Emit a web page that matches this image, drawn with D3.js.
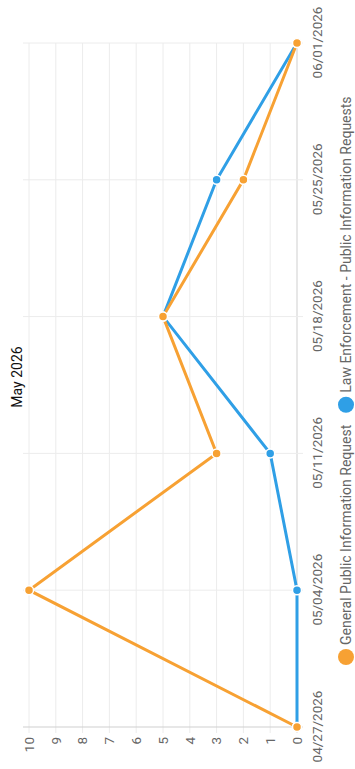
<!DOCTYPE html>
<html>
<head>
<meta charset="utf-8">
<script src="https://cdn.jsdelivr.net/npm/d3@7"></script>
<style>
  body { margin: 0; background: #fff; }
  svg { display: block; font-family: Roboto, "Liberation Sans", Arial, sans-serif; }
</style>
</head>
<body>
<div id="chart"></div>
<script>
// weekly counts, May 2026
const weeks = ["04/27/2026", "05/04/2026", "05/11/2026", "05/18/2026", "05/25/2026", "06/01/2026"];
const generalRequests = [0, 10, 3, 5, 2, 0];
const lawEnforcementRequests = [0, 0, 1, 5, 3, 0];
const valueTicks = [0, 1, 2, 3, 4, 5, 6, 7, 8, 9, 10];
const seriesNames = ["General Public Information Request", "Law Enforcement - Public Information Requests"];
const seriesColors = ["#f7a133", "#2f9fe6"];

const W = 355, H = 769;
const labelFont = "13.5px";

const svg = d3.select("#chart")
    .append("svg")
    .attr("width", W)
    .attr("height", H);

// chart is drawn in landscape and turned a quarter turn
const g = svg.append("g")
    .attr("transform", `translate(0,${H}) rotate(-90)`);

const x = d3.scalePoint()
    .domain(weeks)
    .range([42, 726]);

const y = d3.scaleLinear()
    .domain([0, 10])
    .range([297, 29]);

// grid
g.append("g")
    .selectAll("line")
    .data(valueTicks)
    .join("line")
    .attr("x1", 36)
    .attr("x2", 726)
    .attr("y1", d => y(d))
    .attr("y2", d => y(d))
    .attr("stroke", d => d === 0 ? "#cfcfcf" : "#ececec")
    .attr("stroke-width", 1);

g.append("g")
    .selectAll("line")
    .data(weeks)
    .join("line")
    .attr("x1", d => x(d))
    .attr("x2", d => x(d))
    .attr("y1", 23)
    .attr("y2", 303)
    .attr("stroke", (d, i) => i === 0 ? "#cfcfcf" : "#ececec")
    .attr("stroke-width", 1);

// axes
const xAxis = g.append("g")
    .attr("transform", "translate(0,303)")
    .call(d3.axisBottom(x).tickSize(0).tickPadding(9));

const yAxis = g.append("g")
    .attr("transform", "translate(36,0)")
    .call(d3.axisLeft(y).tickValues(valueTicks).tickSize(0).tickPadding(4));

[xAxis, yAxis].forEach(a => {
    a.select(".domain").remove();
    a.selectAll("text")
        .attr("fill", "#666")
        .style("font-size", labelFont)
        .style("font-family", "Roboto, \"Liberation Sans\", Arial, sans-serif");
});

// lines, orange on top
const series = [
    { name: seriesNames[1], values: lawEnforcementRequests, color: seriesColors[1] },
    { name: seriesNames[0], values: generalRequests, color: seriesColors[0] }
];

const line = d3.line()
    .x((d, i) => x(weeks[i]))
    .y(d => y(d));

series.forEach(s => {
    g.append("path")
        .datum(s.values)
        .attr("fill", "none")
        .attr("stroke", s.color)
        .attr("stroke-width", 3)
        .attr("d", line);
});

series.forEach(s => {
    g.append("g")
        .selectAll("circle")
        .data(s.values)
        .join("circle")
        .attr("cx", (d, i) => x(weeks[i]))
        .attr("cy", d => y(d))
        .attr("r", 4.5)
        .attr("fill", s.color)
        .attr("stroke", "#fff")
        .attr("stroke-width", 1.5);
});

// title
g.append("text")
    .attr("x", 392)
    .attr("y", 22)
    .attr("text-anchor", "middle")
    .attr("fill", "#111")
    .style("font-size", "14px")
    .text("May 2026");

// legend: circle, label, then next item after a gap
const legend = g.append("g");
let lx = 104;
seriesNames.forEach((name, i) => {
    legend.append("circle")
        .attr("cx", lx + 8)
        .attr("cy", 346)
        .attr("r", 8)
        .attr("fill", seriesColors[i]);
    const t = legend.append("text")
        .attr("x", lx + 20)
        .attr("y", 346)
        .attr("dy", "0.35em")
        .attr("fill", "#666")
        .style("font-size", "14px")
        .text(name);
    lx += 20 + t.node().getComputedTextLength() + 12;
});
</script>
</body>
</html>
